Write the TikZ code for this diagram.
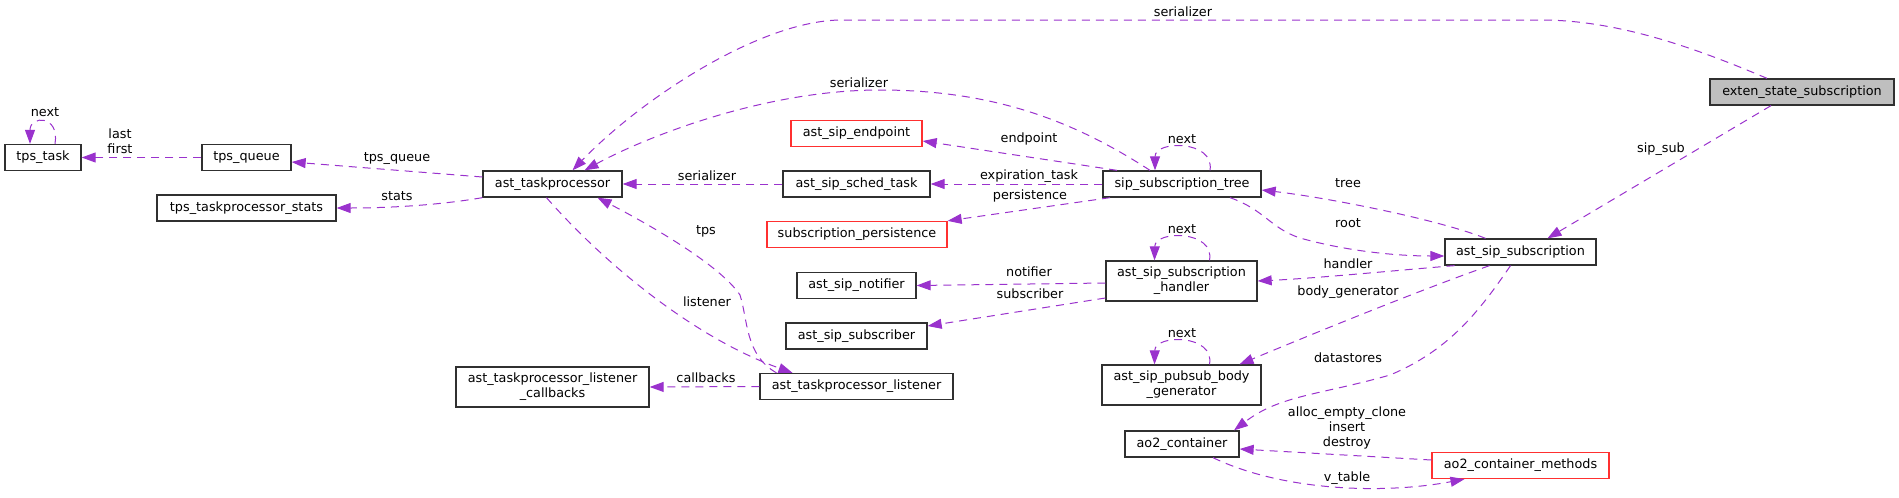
\documentclass[tikz,border=0pt]{standalone}
\usepackage{fontspec}
\setmainfont{DejaVu Sans}
\usetikzlibrary{arrows.meta}
\definecolor{edgepurple}{HTML}{9A32CD}
\definecolor{boxline}{HTML}{303030}
\definecolor{missred}{HTML}{FF3030}
\definecolor{rootgray}{HTML}{BFBFBF}
\newcommand{\dgfont}{\fontsize{12.8}{15}\selectfont}
\tikzset{
  cls/.style={draw=boxline,line width=1.3pt,fill=white,inner sep=0pt,
    minimum height=26pt,align=center,font=\dgfont},
  clstwo/.style={cls,minimum height=40pt},
  undoc/.style={cls,draw=missred},
  memb/.style={draw=edgepurple,line width=1pt,dash pattern=on 8pt off 6pt,
    -{Triangle[length=14pt,width=10pt]}},
  lbl/.style={font=\dgfont,inner sep=0pt,align=center},
}

\begin{document}
\begin{tikzpicture}[x=1pt,y=-1pt]
  \useasboundingbox (0,0) rectangle (1899,498);

  % classes
  \node[cls,fill=rootgray,minimum width=184pt] (exten) at (1802,92) {exten\_state\_subscription};
  \node[cls,minimum width=151pt] (subscr) at (1520.5,252) {ast\_sip\_subscription};
  \node[cls,minimum width=158pt] (tree) at (1182,184) {sip\_subscription\_tree};
  \node[clstwo,minimum width=151pt] (handler) at (1181.5,281) {ast\_sip\_subscription\\\_handler};
  \node[clstwo,minimum width=159pt] (bodygen) at (1181.5,385) {ast\_sip\_pubsub\_body\\\_generator};
  \node[cls,minimum width=114pt] (container) at (1182,444) {ao2\_container};
  \node[undoc,minimum width=177pt] (methods) at (1520.5,465.5) {ao2\_container\_methods};
  \node[undoc,minimum width=131pt] (endpoint) at (856.5,133.5) {ast\_sip\_endpoint};
  \node[cls,minimum width=147pt] (sched) at (856.5,184) {ast\_sip\_sched\_task};
  \node[undoc,minimum width=180pt] (persist) at (857,234.5) {subscription\_persistence};
  \node[cls,minimum width=119pt] (notifier) at (856.5,285.5) {ast\_sip\_notifier};
  \node[cls,minimum width=141pt] (subscriber) at (856.5,336) {ast\_sip\_subscriber};
  \node[cls,minimum width=193pt] (listener) at (856.5,386.5) {ast\_taskprocessor\_listener};
  \node[clstwo,minimum width=193pt] (callbacks) at (552.5,387) {ast\_taskprocessor\_listener\\\_callbacks};
  \node[cls,minimum width=139pt] (taskproc) at (552.5,184) {ast\_taskprocessor};
  \node[cls,minimum width=89pt] (queue) at (246.5,157.5) {tps\_queue};
  \node[cls,minimum width=179pt] (stats) at (246.5,208) {tps\_taskprocessor\_stats};
  \node[cls,minimum width=76pt] (task) at (43,157.5) {tps\_task};

  % long arcs into ast_taskprocessor
  \draw[memb] ([xshift=-35pt]exten.north) .. controls (1700,50) and (1620,20) .. (1541,20)
    -- (842,20) .. controls (760,20) and (640,100) .. ([xshift=20pt]taskproc.north);
  \node[lbl] (lSerA) at (1183,12) {serializer};
  \draw[memb] ([xshift=-32pt]tree.north) .. controls (1080,125) and (1000,90) .. (880,90)
    .. controls (760,90) and (640,140) .. ([xshift=32pt]taskproc.north);
  \node[lbl] (lSerB) at (859,83) {serializer};
  \draw[memb] (sched.west) -- (taskproc.east);
  \node[lbl] (lSerC) at (707,176) {serializer};

  % ast_taskprocessor members
  \draw[memb] ([yshift=7pt]taskproc.west) -- ([yshift=-4.5pt]queue.east);
  \node[lbl] (lQueue) at (397,159) {tps\_queue};
  \draw[memb] (taskproc.south west) .. controls (440,205) and (390,208) .. (stats.east);
  \node[lbl] (lStats) at (397,196) {stats};
  \draw[memb] (queue.west) -- (task.east);
  \node[lbl] (lFirst) at (120,141) {last\\first};
  \draw[memb] ([xshift=-6pt]taskproc.south) .. controls (610,270) and (700,340) .. ([xshift=-64pt]listener.north);
  \node[lbl] (lListener) at (707,302) {listener};
  \draw[memb] ([xshift=-80pt]listener.north) .. controls (745,355) and (748,320) .. (740,295)
    .. controls (720,265) and (650,225) .. ([xshift=45pt]taskproc.south);
  \node[lbl] (lTps) at (706,231) {tps};
  \draw[memb] (listener.west) -- (callbacks.east);
  \node[lbl] (lCallbacks) at (706,378) {callbacks};

  % sip_subscription_tree members
  \draw[memb] ([xshift=-65pt]tree.north) -- ([yshift=-7.5pt]endpoint.east);
  \node[lbl] (lEndpoint) at (1029,139) {endpoint};
  \draw[memb] (tree.west) -- (sched.east);
  \node[lbl] (lExpire) at (1029,176) {expiration\_task};
  \draw[memb] ([xshift=-72pt]tree.south) -- (persist.north east);
  \node[lbl] (lPersist) at (1030,196) {persistence};

  % handler members
  \draw[memb] ([yshift=-2pt]handler.west) -- (notifier.east);
  \node[lbl] (lNotifier) at (1029,272) {notifier};
  \draw[memb] ([yshift=-17pt]handler.west) -- ([yshift=10pt]subscriber.east);
  \node[lbl] (lSubscriber) at (1030,294) {subscriber};

  % self references
  \draw[memb] ([xshift=12pt]task.north) .. controls (60,115) and (30,115) .. ([xshift=-13pt]task.north);
  \node[lbl] (lNextA) at (45,112) {next};
  \draw[memb] ([xshift=28pt]tree.north) .. controls (1215,140) and (1155,140) .. ([xshift=-27pt]tree.north);
  \node[lbl] (lNextB) at (1182,139) {next};
  \draw[memb] ([xshift=28pt]handler.north) .. controls (1215,230) and (1155,230) .. ([xshift=-27pt]handler.north);
  \node[lbl] (lNextC) at (1182,229) {next};
  \draw[memb] ([xshift=28pt]bodygen.north) .. controls (1215,334) and (1155,334) .. ([xshift=-27pt]bodygen.north);
  \node[lbl] (lNextD) at (1182,333) {next};

  % ast_sip_subscription members
  \draw[memb] ([xshift=-31pt]exten.south) -- ([xshift=27pt]subscr.north);
  \node[lbl] (lSipSub) at (1661,149) {sip\_sub};
  \draw[memb] ([xshift=-35pt]subscr.north) .. controls (1440,220) and (1330,198) .. ([yshift=-6pt]tree.east);
  \node[lbl] (lTree) at (1348,183) {tree};
  \draw[memb] ([xshift=48pt]tree.south) .. controls (1265,210) and (1270,228) .. (1300,238)
    .. controls (1350,252) and (1400,256) .. ([yshift=-4pt]subscr.west);
  \node[lbl] (lRoot) at (1348,223) {root};
  \draw[memb] ([xshift=-66pt]subscr.south) .. controls (1400,270) and (1320,278) .. (handler.east);
  \node[lbl] (lHandler) at (1348,264) {handler};
  \draw[memb] ([xshift=-31pt]subscr.south) .. controls (1420,290) and (1310,335) .. ([xshift=58pt]bodygen.north);
  \node[lbl] (lBody) at (1348,292) {body\_generator};
  \draw[memb] ([xshift=-10pt]subscr.south) .. controls (1480,310) and (1450,350) .. (1390,375)
    .. controls (1320,395) and (1280,395) .. ([xshift=52pt]container.north);
  \node[lbl] (lStores) at (1348,358) {datastores};

  % ao2 container
  \draw[memb] ([yshift=5.5pt]methods.west) -- ([yshift=-5pt]container.east);
  \node[lbl] (lMethods) at (1347,428) {alloc\_empty\_clone\\insert\\destroy};
  \draw[memb] ([xshift=31pt]container.south) .. controls (1280,490) and (1380,495) .. ([xshift=-56pt]methods.south);
  \node[lbl] (lVtable) at (1347,478) {v\_table};
\end{tikzpicture}
\end{document}
